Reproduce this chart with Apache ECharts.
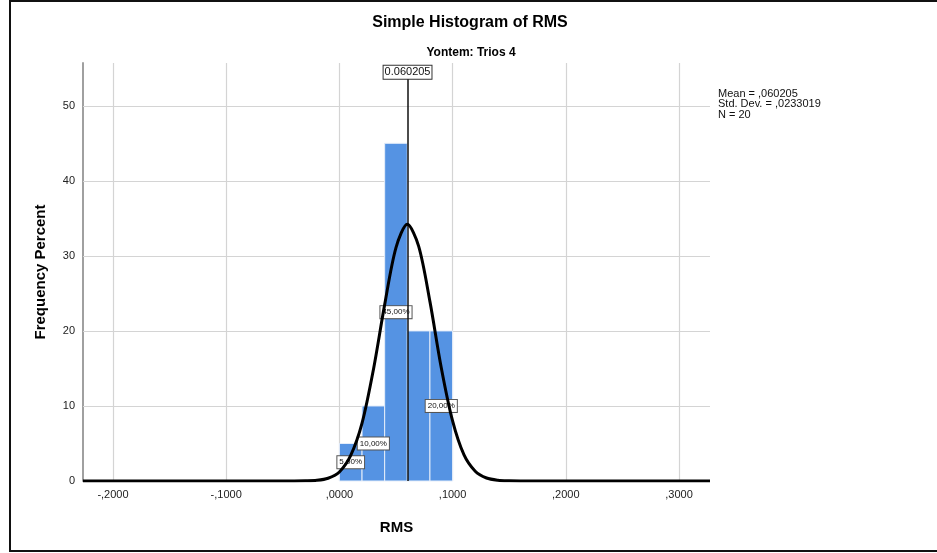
<!DOCTYPE html>
<html>
<head>
<meta charset="utf-8">
<script src="https://cdn.jsdelivr.net/npm/echarts@6/dist/echarts.min.js"></script>
<style>
  html, body { margin: 0; padding: 0; background: #fff; }
  #chart { width: 937px; height: 553px; }
</style>
</head>
<body>
<div id="chart"></div>
<script>
// histogram bins (RMS), percent of cases
var binStart = [0.00, 0.02, 0.04, 0.06, 0.08];
var binWidth = 0.02;
var binPercent = [5, 10, 45, 20, 20];
var binLabelShown = [true, true, true, false, true];

// normal curve
var curveX = [-0.2265, -0.05, -0.04, -0.03, -0.02, -0.01, 0.00, 0.01, 0.02, 0.03, 0.04, 0.05, 0.06,
              0.07, 0.08, 0.09, 0.10, 0.11, 0.12, 0.13, 0.14, 0.15, 0.16, 0.17, 0.3274];
var curveY = [0, 0, 0, 0.02, 0.09, 0.37, 1.2, 3.4, 7.7, 14.8, 23.5, 31.1, 34.2,
              31.3, 23.9, 15.1, 8.0, 3.5, 1.3, 0.4, 0.1, 0.02, 0, 0, 0];

var xTicks = [-0.2, -0.1, 0.0, 0.1, 0.2, 0.3];
var yTicks = [0, 10, 20, 30, 40, 50];
var meanValue = 0.060205;
var statsLines = ['Mean = ,060205', 'Std. Dev. = ,0233019', 'N = 20'];

var xMin = -0.2265, xMax = 0.3274, yMax = 55.7;

function spssNum(v) {
  var s = Math.abs(v).toFixed(4).split('.')[1];
  return (v < 0 ? '-,' : ',') + s;
}

var barData = [];
for (var i = 0; i < binStart.length; i++) {
  barData.push([binStart[i], binStart[i] + binWidth, binPercent[i], binLabelShown[i] ? 1 : 0]);
}
var curveData = [];
for (var j = 0; j < curveX.length; j++) curveData.push([curveX[j], curveY[j]]);

// light grid lines at the tick values
var gridLines = [];
xTicks.forEach(function (t) { gridLines.push({ xAxis: t }); });
yTicks.forEach(function (t) { if (t > 0) gridLines.push({ yAxis: t }); });

var myChart = echarts.init(document.getElementById('chart'));
var option = {
  backgroundColor: '#fff',
  animation: false,
  textStyle: { fontFamily: 'Liberation Sans, Arial, sans-serif' },
  title: [{
    text: 'Simple Histogram of RMS',
    left: 465, top: 10, textAlign: 'center',
    textStyle: { fontSize: 16, fontWeight: 'bold', color: '#000', fontFamily: 'Liberation Sans Narrow, Liberation Sans, Arial' }
  }, {
    text: 'Yontem: Trios 4',
    left: 466, top: 42, textAlign: 'center',
    textStyle: { fontSize: 12, fontWeight: 'bold', color: '#000', fontFamily: 'Liberation Sans Narrow, Liberation Sans, Arial' }
  }],
  grid: { left: 83, right: 227, top: 63, bottom: 72 },
  xAxis: {
    type: 'value', min: xMin, max: xMax,
    name: 'RMS', nameLocation: 'middle', nameGap: 39,
    nameTextStyle: { fontSize: 15, fontWeight: 'bold', color: '#000' },
    axisLine: { show: false },
    axisTick: { show: false },
    splitLine: { show: false },
    axisLabel: { customValues: xTicks, formatter: spssNum, color: '#222', fontSize: 11, margin: 8 }
  },
  yAxis: {
    type: 'value', min: 0, max: yMax,
    name: 'Frequency Percent', nameLocation: 'middle', nameGap: 35,
    nameTextStyle: { fontSize: 15, fontWeight: 'bold', color: '#000' },
    axisLine: { show: true, onZero: false, lineStyle: { color: '#a0a0a0', width: 2 } },
    axisTick: { show: false },
    splitLine: { show: false },
    axisLabel: { customValues: yTicks, color: '#222', fontSize: 11, margin: 8 }
  },
  graphic: [{
    type: 'rect', shape: { x: 10, y: 1, width: 930, height: 550 },
    style: { fill: 'none', stroke: '#111', lineWidth: 2 }, silent: true
  }, {
    type: 'text', left: 718, top: 88,
    style: { text: statsLines.join('\n'), fontSize: 11, lineHeight: 10.5, fill: '#111', fontFamily: 'Liberation Sans, Arial' }
  }],
  series: [{
    type: 'line', data: [], silent: true,
    markLine: {
      symbol: 'none', silent: true, z: 1,
      label: { show: false },
      lineStyle: { type: 'solid', color: '#d4d4d4', width: 1.2 },
      data: gridLines
    }
  }, {
    type: 'custom', z: 3,
    data: barData,
    renderItem: function (params, api) {
      var p0 = api.coord([api.value(0), api.value(2)]);
      var p1 = api.coord([api.value(1), 0]);
      var children = [{
        type: 'rect',
        shape: { x: p0[0], y: p0[1], width: p1[0] - p0[0], height: p1[1] - p0[1] },
        style: { fill: '#5593e3', stroke: '#e6eefa', lineWidth: 1 }
      }];
      if (api.value(3) === 1) {
        var pc = api.coord([(api.value(0) + api.value(1)) / 2, api.value(2) / 2]);
        children.push({
          type: 'text', x: pc[0], y: pc[1], z2: 5,
          style: {
            text: api.value(2).toFixed(2).replace('.', ',') + '%',
            fontSize: 8, fill: '#111', align: 'center', verticalAlign: 'middle',
            backgroundColor: '#fff', borderColor: '#555', borderWidth: 1, padding: [2, 2]
          }
        });
      }
      return { type: 'group', children: children };
    }
  }, {
    type: 'line', z: 5, data: curveData,
    smooth: 0.3, symbol: 'none', silent: true,
    lineStyle: { color: '#000', width: 3 },
    markLine: {
      symbol: 'none', silent: true,
      lineStyle: { type: 'solid', color: '#111', width: 1.5 },
      label: {
        show: true, position: 'end', distance: 0,
        formatter: String(meanValue),
        fontSize: 11, color: '#111', backgroundColor: '#fff',
        borderColor: '#333', borderWidth: 1, padding: [1, 1]
      },
      data: [[{ coord: [meanValue, 0] }, { coord: [meanValue, 53.6] }]]
    }
  }]
};
myChart.setOption(option);
</script>
</body>
</html>
